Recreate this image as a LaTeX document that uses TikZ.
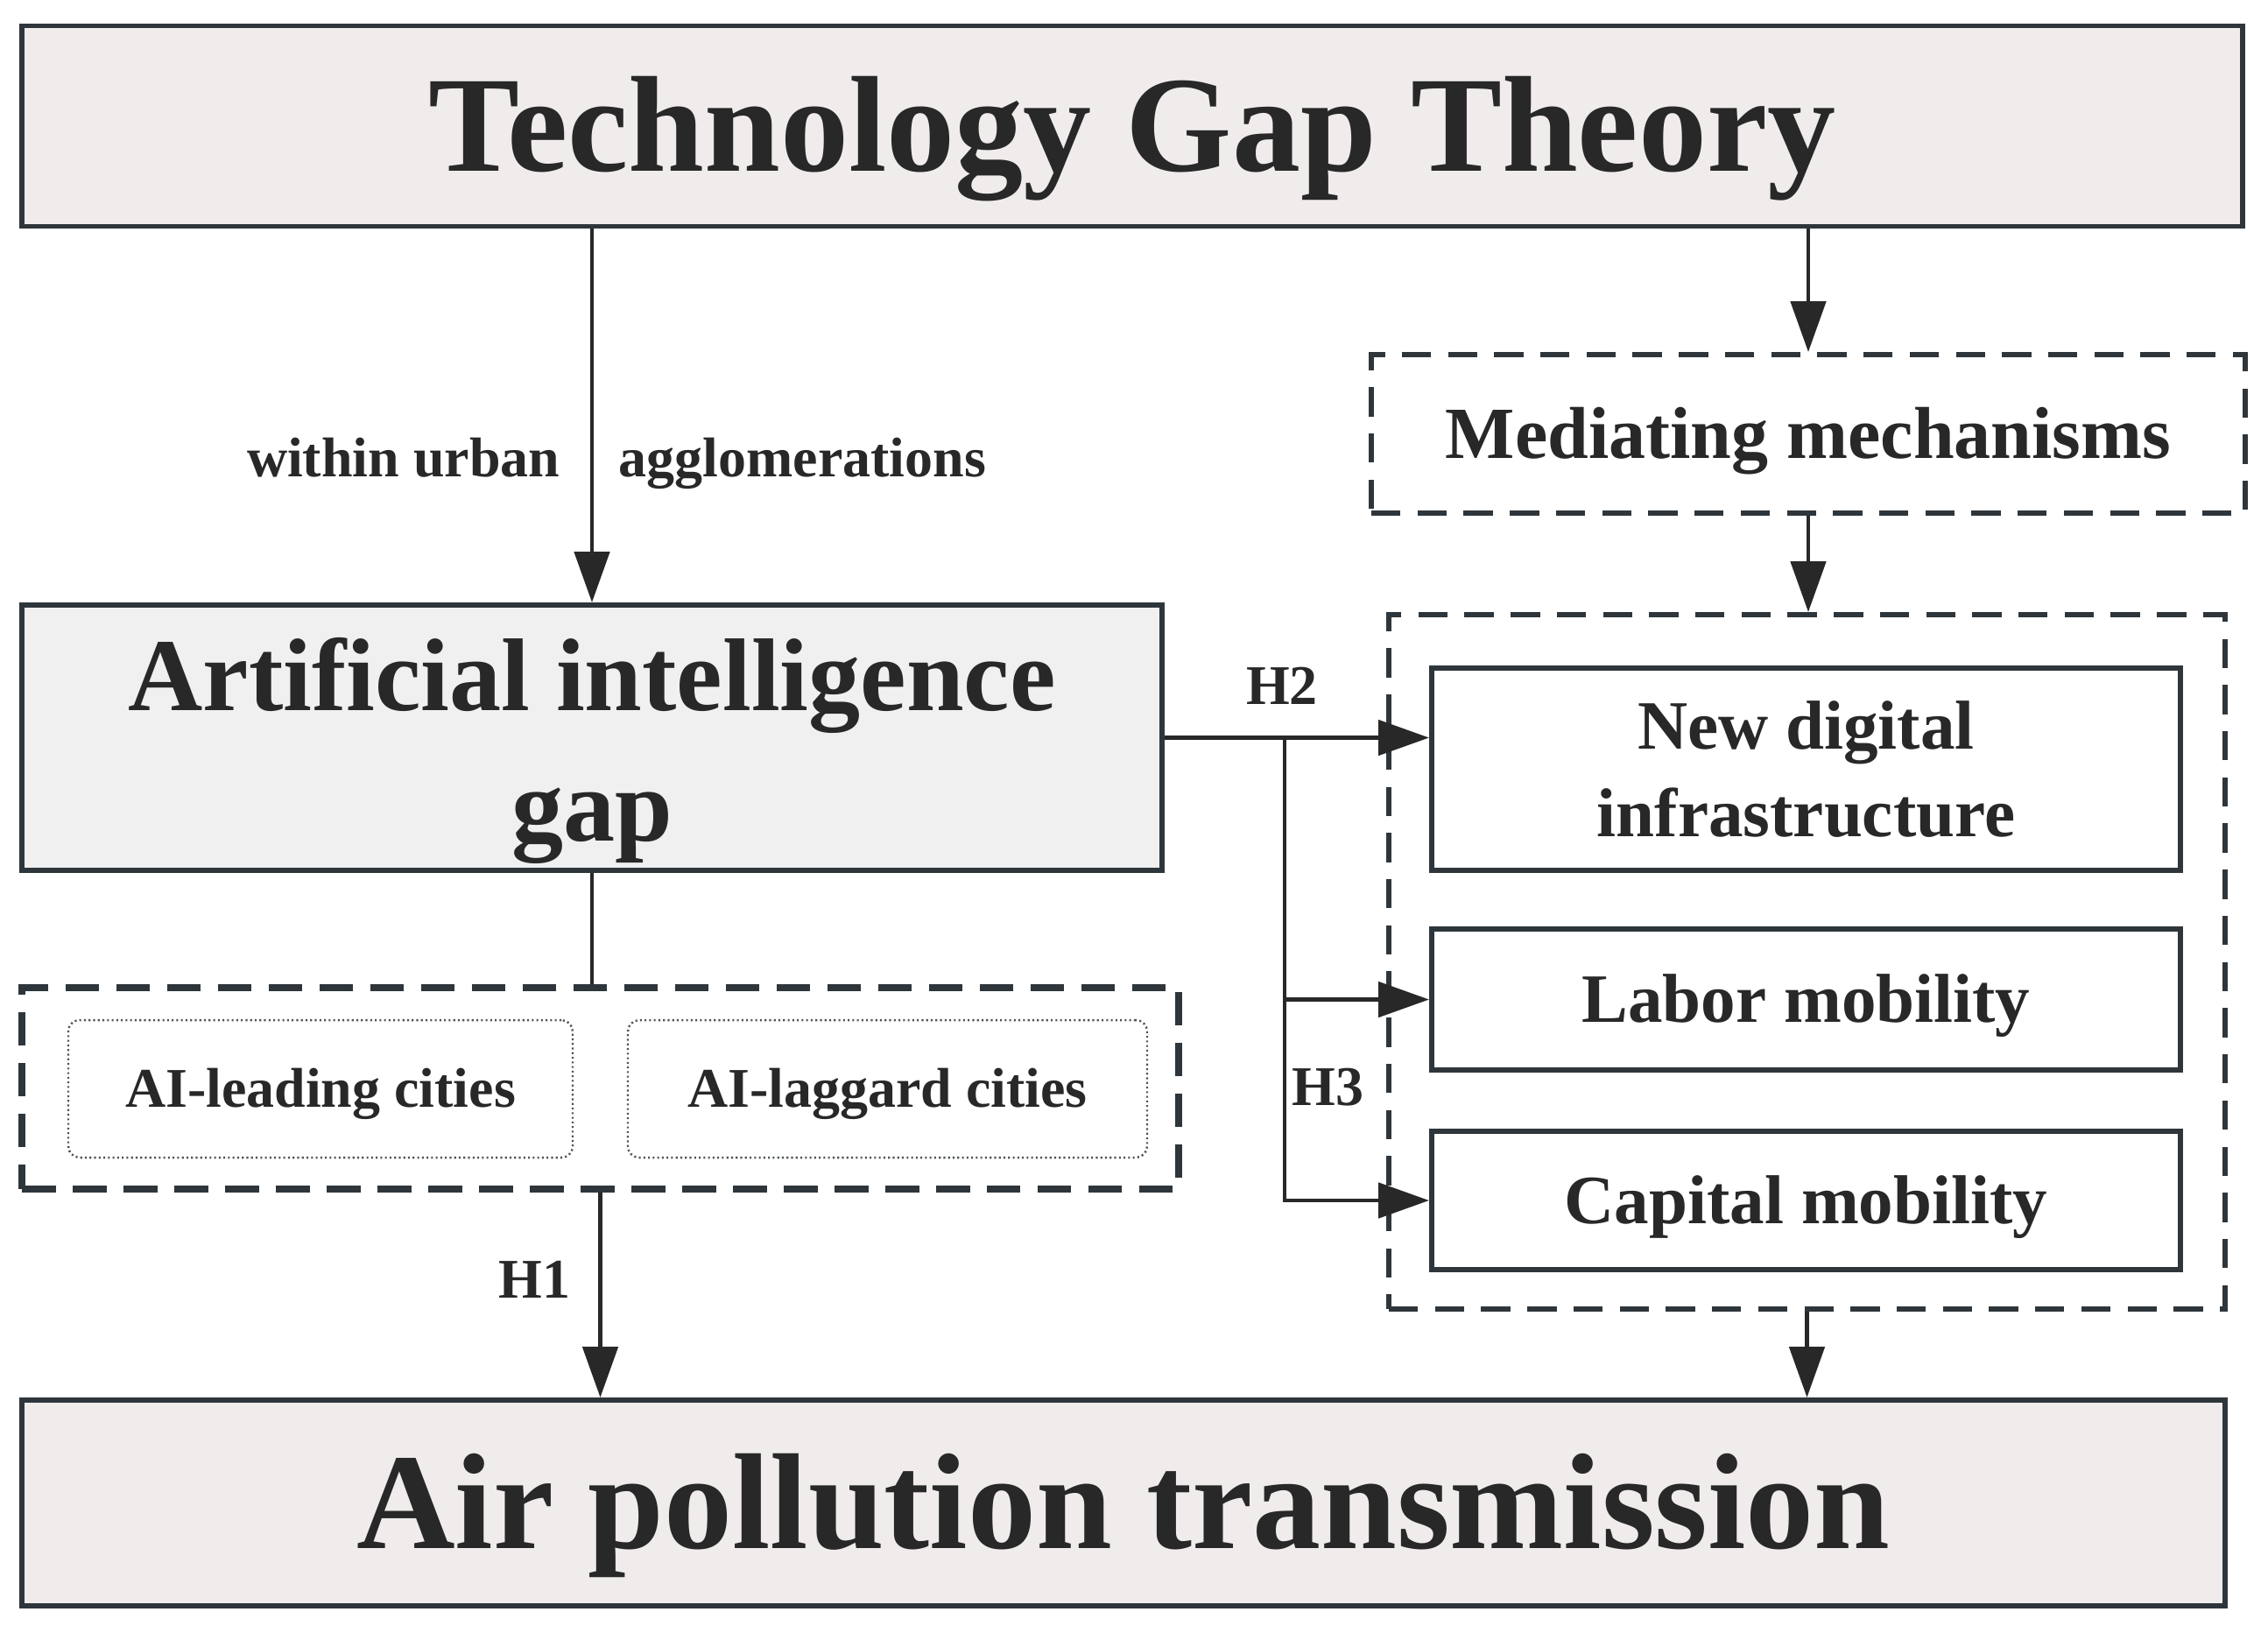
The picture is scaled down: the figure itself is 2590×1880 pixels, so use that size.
\documentclass[tikz,border=0pt]{standalone}
\usepackage{fontspec}
\setmainfont{Liberation Serif}
\usetikzlibrary{arrows.meta}

\definecolor{boxline}{HTML}{2E363B}
\definecolor{inkgray}{HTML}{282828}
\definecolor{rosefill}{HTML}{F0ECEC}
\definecolor{grayfill}{HTML}{F0F0F0}

\newcommand{\bfsize}[2]{\bfseries\fontsize{#1}{#2}\selectfont}

\tikzset{
  solidbox/.style={draw=boxline, line width=1.7pt, text=inkgray, inner sep=0pt},
  headbox/.style={solidbox, fill=rosefill, font=\bfsize{44.4}{50}, text height=29.4pt, text depth=0pt},
  mechbox/.style={solidbox, font=\bfsize{22.5}{28.2}, minimum width=85.5mm},
  dashframe/.style={draw=boxline, line width=1.7pt, dash pattern=on 9.5pt off 5.5pt, inner sep=0pt},
  citybox/.style={draw=boxline!85, line width=0.7pt, dash pattern=on 0.6pt off 0.9pt, rounded corners=1.3mm,
    text=inkgray, inner sep=0pt, font=\bfsize{18.2}{22}, text height=12pt, text depth=0pt},
  smalltext/.style={text=inkgray, inner sep=0pt, font=\bfsize{18.2}{22}},
  arr/.style={draw=inkgray, line width=1.4pt, -{Triangle[length=5.8mm, width=4mm]}},
  link/.style={draw=inkgray, line width=1.4pt}
}

\begin{document}
\begin{tikzpicture}[x=0.1mm, y=-0.1mm]
  \useasboundingbox (0,0) rectangle (2590,1880);

  \node[headbox, minimum width=253.6mm, minimum height=22.9mm] (theory) at (1293,144) {Technology Gap Theory};
  \node[solidbox, fill=grayfill, align=center, font=\bfsize{33.6}{42.4}, minimum width=130.2mm, minimum height=30.3mm] (gap) at (676,842.5) {\rule{0pt}{32pt}Artificial intelligence\\gap};
  \node[dashframe, line width=2.4pt, dash pattern=on 11pt off 5.5pt, minimum width=132.1mm, minimum height=23mm] (cities) at (685.5,1243) {};
  \node[citybox, minimum width=57.6mm, minimum height=15.7mm] (leading) at (366,1243.5) {AI-leading cities};
  \node[citybox, minimum width=59.3mm, minimum height=15.7mm] (laggard) at (1013.5,1243.5) {AI-laggard cities};
  \node[headbox, minimum width=251.6mm, minimum height=23.5mm] (pollution) at (1283,1716.5) {Air pollution transmission};

  \node[dashframe, text=inkgray, font=\bfsize{23.9}{28}, text height=15.8pt, text depth=0pt, minimum width=99.8mm, minimum height=18.1mm] (mediating) at (2065,495.5) {Mediating mechanisms};
  \node[dashframe, minimum width=95.5mm, minimum height=79.3mm] (frame) at (2063.5,1098.5) {};
  \node[mechbox, align=center, minimum height=23.1mm] (digital) at (2062.5,878.5) {New digital\\infrastructure};
  \node[mechbox, text height=14.9pt, text depth=0pt, minimum height=16.1mm] (labor) at (2062.5,1141.5) {Labor mobility};
  \node[mechbox, text height=14.9pt, text depth=0pt, minimum height=15.8mm] (capital) at (2062.5,1371) {Capital mobility};

  \node[smalltext, anchor=base east] (within) at (640,544) {within urban};
  \node[smalltext, anchor=base west] (agglo) at (706,544) {agglomerations};
  \node[smalltext, anchor=base east] (hone) at (652,1482) {H1};
  \node[smalltext, anchor=base] (htwo) at (1464,804) {H2};
  \node[smalltext, anchor=base west] (hthree) at (1475,1262) {H3};

  \draw[arr] (theory.south -| gap.north) -- (gap.north);
  \draw[arr] (theory.south -| mediating.north) -- (mediating.north);
  \draw[arr] (mediating.south) -- (mediating.south |- frame.north);
  \draw[link] (gap.south) -- (gap.south |- cities.north);
  \draw[arr] (cities.south) -- (cities.south |- pollution.north);
  \draw[arr] (frame.south) -- (frame.south |- pollution.north);
  \draw[arr] (gap.east) -- (gap.east -| digital.west);
  \coordinate (split) at ([xshift=13.7mm]gap.east);
  \draw[arr] (split) |- (labor.west);
  \draw[arr] (split) |- (capital.west);
\end{tikzpicture}
\end{document}
